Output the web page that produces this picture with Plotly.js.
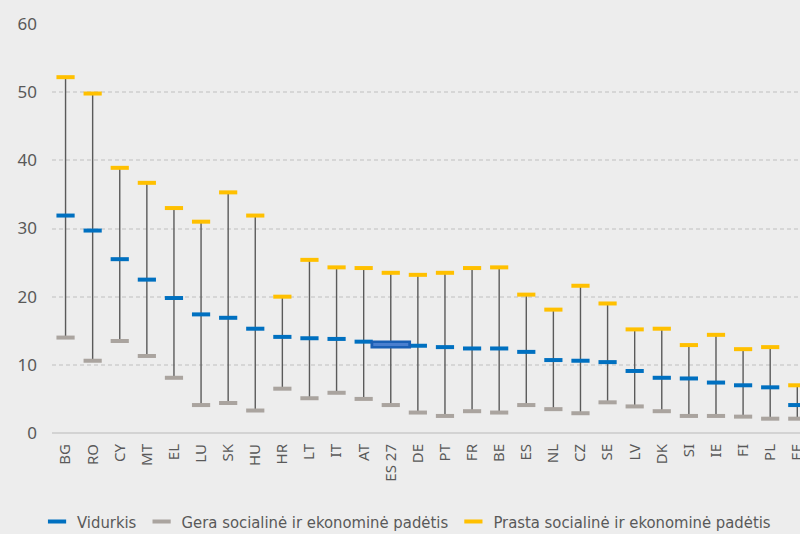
<!DOCTYPE html>
<html>
<head>
<meta charset="utf-8">
<script src="https://cdn.plot.ly/plotly-3.0.1.min.js"></script>
<style>html,body{margin:0;padding:0;background:#ededed;}#chart{width:800px;height:534px;}</style>
</head>
<body>
<div id="chart"></div>
<script>
const categories = ["BG","RO","CY","MT","EL","LU","SK","HU","HR","LT","IT","AT","ES 27","DE","PT","FR","BE","ES","NL","CZ","SE","LV","DK","SI","IE","FI","PL","EE"];
const vidurkis = [31.9,29.7,25.5,22.5,19.8,17.4,16.9,15.3,14.1,13.9,13.8,13.4,13.0,12.8,12.6,12.4,12.4,11.9,10.7,10.6,10.4,9.1,8.1,8.0,7.4,7.0,6.7,4.1];
const gera = [14.0,10.6,13.5,11.3,8.1,4.1,4.4,3.3,6.5,5.1,5.9,5.0,4.1,3.0,2.5,3.2,3.0,4.1,3.5,2.9,4.5,3.9,3.2,2.5,2.5,2.4,2.1,2.1];
const prasta = [52.2,49.8,38.9,36.7,33.0,31.0,35.3,31.9,20.0,25.4,24.3,24.2,23.5,23.2,23.5,24.2,24.3,20.3,18.1,21.6,19.0,15.2,15.3,12.9,14.4,12.3,12.6,7.0];
const seriesNames = ["Vidurkis","Gera socialinė ir ekonominė padėtis","Prasta socialinė ir ekonominė padėtis"];
const highlightCategory = "ES 27";

const blue = "#0070c0", grey = "#aaa49f", yellow = "#ffc000";

// vertical range lines
const lx = [], ly = [];
categories.forEach((c, i) => { lx.push(c, c, null); ly.push(gera[i], prasta[i], null); });

const hi = categories.indexOf(highlightCategory);

function markerTrace(name, y, color) {
  return {
    type: "scatter", mode: "markers", name: name, x: categories, y: y,
    marker: {symbol: "line-ew", size: 13, color: color, line: {color: color, width: 4}},
    hoverinfo: "x+y"
  };
}

const traces = [
  {type: "scatter", mode: "lines", x: lx, y: ly, line: {color: "#5a5a5a", width: 1.4}, showlegend: false, hoverinfo: "skip"},
  markerTrace(seriesNames[0], vidurkis, blue),
  markerTrace(seriesNames[1], gera, grey),
  markerTrace(seriesNames[2], prasta, yellow),
  {type: "scatter", mode: "markers", x: [categories[hi]], y: [vidurkis[hi]], showlegend: false, hoverinfo: "skip",
   marker: {symbol: "line-ew", size: 29, color: "#1a5fb4", line: {color: "#1a5fb4", width: 8}}},
  {type: "scatter", mode: "markers", x: [categories[hi]], y: [vidurkis[hi]], showlegend: false, hoverinfo: "skip",
   marker: {symbol: "line-ew", size: 25, color: "#4a7fcf", line: {color: "#4a7fcf", width: 3}}}
];

const layout = {
  width: 800, height: 534,
  paper_bgcolor: "#ededed", plot_bgcolor: "#ededed",
  margin: {l: 52, r: 0, t: 24, b: 101, autoexpand: false},
  showlegend: true,
  legend: {orientation: "h", x: -0.02, xanchor: "left", y: -0.217, yanchor: "middle",
           font: {family: "Liberation Sans Narrow, DejaVu Sans Condensed, Arial Narrow, sans-serif", size: 16.5, color: "#595959"},
           itemwidth: 30, tracegroupgap: 0, bgcolor: "rgba(0,0,0,0)"},
  xaxis: {type: "category", range: [-0.5, 27.1], showgrid: false, zeroline: false, automargin: false,
          showline: false, tickangle: -90, ticks: "", ticklabelstandoff: 7,
          tickfont: {family: "Noto Sans, sans-serif", size: 15, color: "#595959"}},
  yaxis: {range: [0, 60], dtick: 10, showgrid: true, gridcolor: "#d6d6d6", gridwidth: 1.5, griddash: "4px,3px",
          zeroline: true, zerolinecolor: "#d3d3d3", zerolinewidth: 2, ticks: "", ticklabelstandoff: 14, automargin: false,
          tickfont: {family: "Noto Sans, sans-serif", size: 17, color: "#595959"}},
  hovermode: "closest"
};

Plotly.newPlot("chart", traces, layout, {displayModeBar: false});
</script>
</body>
</html>
